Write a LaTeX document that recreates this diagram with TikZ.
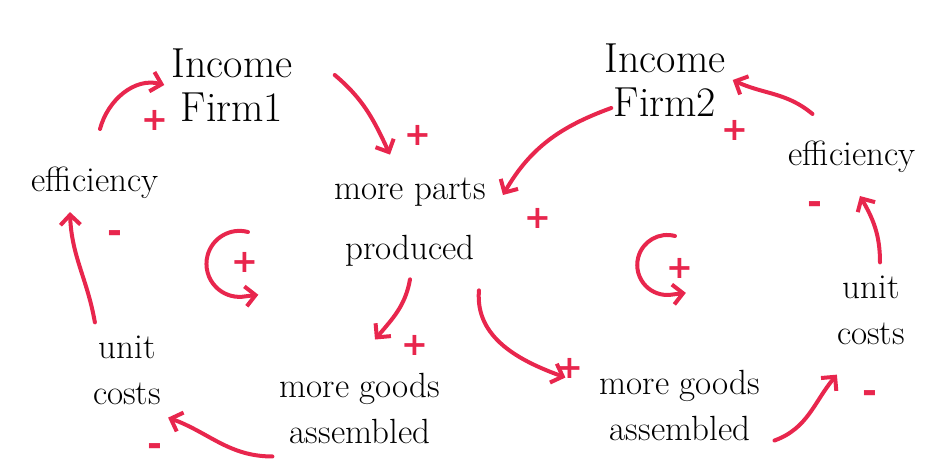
\documentclass[tikz,border=0pt]{standalone}
\usepackage{fontspec}
\usetikzlibrary{arrows.meta}
\newfontfamily\signfont{DejaVu Sans}
\definecolor{cldred}{RGB}{232,38,77}

\begin{document}
\begin{tikzpicture}[x=1pt, y=1pt,
  var/.style={align=center, inner xsep=7pt, inner ysep=13pt, font=\fontsize{35}{46}\selectfont},
  income/.style={var, font=\fontsize{42}{44}\selectfont},
  link/.style={cldred, line width=4pt, line cap=round, line join=round,
    -{Straight Barb[length=10pt, width=20pt]}},
  sgn/.style={cldred, inner sep=0pt, font=\signfont\bfseries\fontsize{32}{32}\selectfont},
  neg/.style={sgn, font=\signfont\bfseries\fontsize{36}{36}\selectfont},
]
\useasboundingbox (0,0) rectangle (938,467);

% firm 1
\node[income] (inc1) at (232,382) {Income\\Firm1};
\node[var] (parts) at (410,245) {more parts\\[14pt]produced};
\node[var] (good1) at (360,59) {more goods\\assembled};
\node[var] (cost1) at (127,97) {unit\\costs};
\node[var] (eff1) at (95,284) {efficiency};

% firm 2
\node[income] (inc2) at (665,387) {Income\\Firm2};
\node[var] (good2) at (680,62) {more goods\\assembled};
\node[var] (cost2) at (871,157) {unit\\costs};
\node[var] (eff2) at (852,310) {efficiency};

% links of loop 1
\draw[link] ([shift={(5,25)}]eff1.north) to[out=75, in=165] (inc1.west);
\draw[link] ([shift={(35,10)}]inc1.east) to[out=-40, in=115] ([shift={(-20,10)}]parts.north);
\draw[link] (parts.south) to[out=-100, in=50] ([shift={(15,20)}]good1.north);
\draw[link] (good1.south west) to[out=180, in=-20] (cost1.south east);
\draw[link] ([xshift=9pt]cost1.north west) to[out=100, in=-88] ([xshift=-25pt]eff1.south);

% links of loop 2
\draw[link] ([shift={(14,-28)}]inc2.west) to[out=200, in=60] ([shift={(10,27)}]parts.east);
\draw[link] ([shift={(-14,-11)}]parts.south east) to[out=-95, in=160] ([shift={(-27,-21)}]good2.north west);
\draw[link] ([shift={(7,13)}]good2.south east) to[out=20, in=-130] ([shift={(7,-17)}]cost2.south west);
\draw[link] ([xshift=9pt]cost2.north) to[out=90, in=-60] ([shift={(8,-10)}]eff2.south);
\draw[link] ([shift={(31,14)}]eff2.north west) to[out=140, in=-25] (inc2.east);

% polarities
\node[sgn] (p1) at (155,347) {+};
\node[sgn] (p2) at (418,332) {+};
\node[sgn] (p3) at (415,122) {+};
\node[neg] (p4) at (155,17) {-};
\node[neg] (p5) at (115,230) {-};
\node[sgn] (p6) at (538,249) {+};
\node[sgn] (p7) at (570,99) {+};
\node[neg] (p8) at (870,70) {-};
\node[neg] (p9) at (815,259) {-};
\node[sgn] (p10) at (735,337) {+};

% reinforcing loop marks
\node[sgn] (lp1) at (245,205) {+};
\node[sgn] (lp2) at (680,199) {+};
\draw[link] ([shift={(3,30)}]lp1.center) arc[start angle=75, end angle=275, radius=33] -- ++(16,2);
\draw[link] ([shift={(-5,32)}]lp2.center) arc[start angle=75, end angle=275, radius=30] -- ++(16,2);
\end{tikzpicture}
\end{document}
